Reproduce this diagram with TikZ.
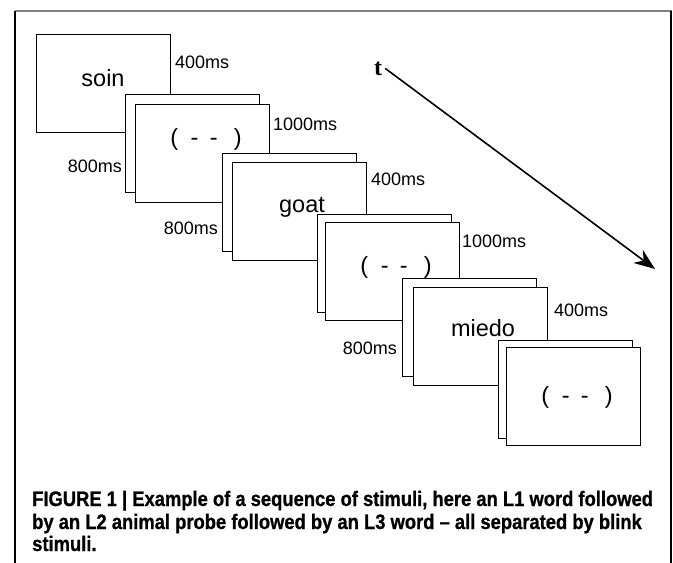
\documentclass[tikz,border=0pt]{standalone}
\usepackage{fontspec}
\setmainfont{Liberation Sans}
\newfontfamily\capfont[FakeStretch=0.875,BoldFeatures={FakeBold=0.8}]{Liberation Sans}
\newfontfamily\tfont{Liberation Serif}
\usetikzlibrary{arrows.meta}

\newcommand{\blink}{(\hspace{0.54em}-\hspace{0.48em}-\hspace{0.69em})}

\begin{document}
\begin{tikzpicture}[x=1pt,y=-1pt,
  card/.style={draw,line width=1.2pt,fill=white,minimum width=134pt,minimum height=98pt,anchor=north west,inner sep=0pt},
  word/.style={anchor=base,font=\fontsize{23.5}{26}\selectfont,inner sep=0pt},
  dur/.style={font=\fontsize{18}{20}\selectfont,inner sep=0pt},
  capline/.style={anchor=base west,font=\capfont\bfseries\fontsize{21}{23}\selectfont,inner sep=0pt}]
\useasboundingbox (0,0) rectangle (673,563);
% frame
\draw[gray,line width=1.5pt] (15,11) -- (672,11);
\draw[line width=1.5pt] (15,11) -- (15,563);
\draw[line width=1.5pt] (671,11) -- (671,563);
% screens
\node[card] (f1) at (36,34) {};
\foreach \n/\bx/\by/\fx/\fy in {2/125/94/135/104, 3/222/153/232/162, 4/317/214/325/222,
    5/402/278/413/287, 6/498/340/506/347}
{
  \node[card] (b\n) at (\bx,\by) {};
  \node[card] (f\n) at (\fx,\fy) {};
}
\node[word] (w1) at (103,86) {soin};
\node[word] (w2) at (206,145) {\blink};
\node[word] (w3) at (302,212) {goat};
\node[word] (w4) at (396,273) {\blink};
\node[word] (w5) at (483,336) {miedo};
\node[word] (w6) at (577,403) {\blink};
% durations
\node[dur,anchor=base west] (d1) at (175,68) {400ms};
\node[dur,anchor=base west] (d2) at (273,130) {1000ms};
\node[dur,anchor=base east] (d3) at (122,172) {800ms};
\node[dur,anchor=base east] (d4) at (218,234) {800ms};
\node[dur,anchor=base west] (d5) at (371,185) {400ms};
\node[dur,anchor=base west] (d6) at (462,247) {1000ms};
\node[dur,anchor=base east] (d7) at (397,354) {800ms};
\node[dur,anchor=base west] (d8) at (554,316) {400ms};
% time arrow
\node[anchor=base,font=\tfont\bfseries\fontsize{24}{26}\selectfont,inner sep=3pt] (t) at (378,75) {t};
\coordinate (tend) at (655,269);
\draw[line width=1.6pt,-{Stealth[length=21pt,width=16pt]}] (t.east) -- (tend);
% caption
\node[capline] (cap1) at (32,506) {FIGURE 1 | Example of a sequence of stimuli, here an L1 word followed};
\node[capline] (cap2) at (32,529) {by an L2 animal probe followed by an L3 word – all separated by blink};
\node[capline] (cap3) at (32,551) {stimuli.};
\end{tikzpicture}
\end{document}
